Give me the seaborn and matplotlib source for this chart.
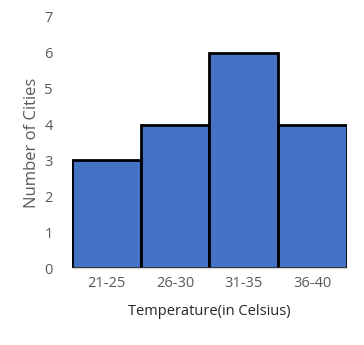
import matplotlib
matplotlib.use("Agg")
import matplotlib.pyplot as plt
import seaborn as sns
import pandas as pd

temperature_ranges = ["21-25", "26-30", "31-35", "36-40"]
city_counts = [3, 4, 6, 4]

sns.set_theme(style="white")
plt.rcParams["font.family"] = ["Open Sans", "DejaVu Sans"]

df = pd.DataFrame({"range": temperature_ranges, "count": city_counts})

fig = plt.figure(figsize=(3.64, 3.45), dpi=100)
ax = fig.add_axes([0.198, 0.223, 0.755, 0.728])

sns.barplot(data=df, x="range", y="count", color="#4472C4", saturation=1,
            width=1.0, edgecolor="black", linewidth=2, ax=ax)

ax.set_ylim(0, 7)
ax.set_yticks(range(0, 8))
ax.set_xlim(-0.5, 3.5)
for s in ["top", "right", "left"]:
    ax.spines[s].set_visible(False)
ax.spines["bottom"].set_color("#D9D9D9")
ax.spines["bottom"].set_linewidth(1)
ax.tick_params(axis="x", colors="#595959", labelsize=10.5, length=0, pad=6)
ax.tick_params(axis="y", colors="#595959", labelsize=10.5, length=0, pad=14)
ax.set_xlabel("Temperature(in Celsius)", fontsize=10.5, color="#262626", labelpad=9)
ax.set_ylabel("Number of Cities", fontsize=12, color="#595959", labelpad=3)

fig.savefig("out.png", dpi=100)
